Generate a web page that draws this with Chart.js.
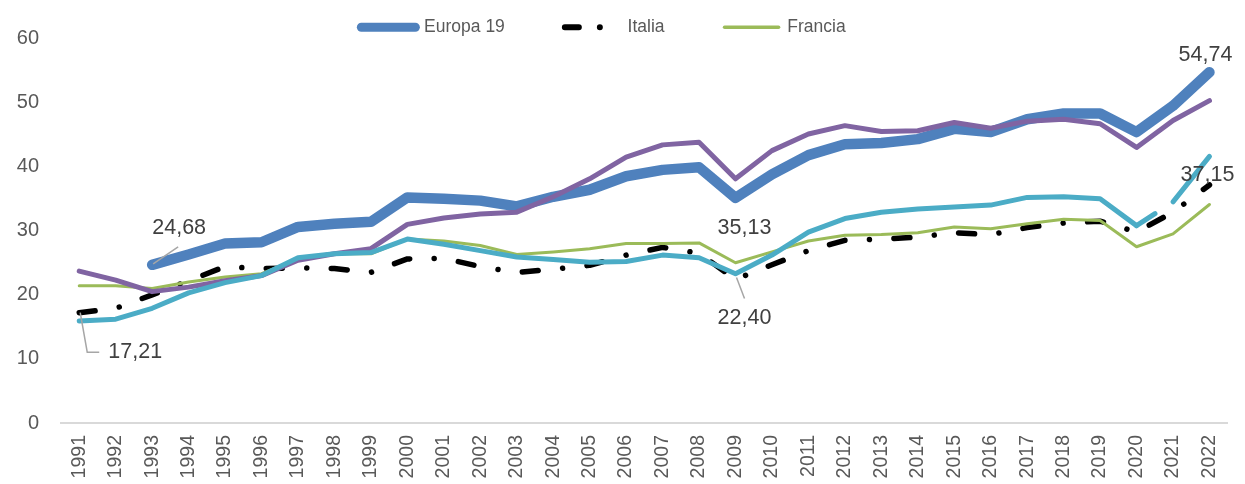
<!DOCTYPE html>
<html>
<head>
<meta charset="utf-8">
<script src="https://cdn.jsdelivr.net/npm/chart.js@4.4.1/dist/chart.umd.min.js"></script>
<style>
  html, body { margin: 0; padding: 0; background: #fff; }
  #wrap { position: relative; width: 1245px; height: 484px; }
</style>
</head>
<body>
<div id="wrap"><canvas id="grafico"></canvas></div>
<script>
// 1. DATI
const anni = ["1991","1992","1993","1994","1995","1996","1997","1998","1999","2000",
  "2001","2002","2003","2004","2005","2006","2007","2008","2009","2010",
  "2011","2012","2013","2014","2015","2016","2017","2018","2019","2020","2021","2022"];

const europa19 = [null, null, 24.68, 26.3, 28.0, 28.2, 30.6, 31.1, 31.4, 35.2,
  35.0, 34.7, 33.8, 35.3, 36.4, 38.5, 39.5, 39.9, 35.13, 38.8,
  41.8, 43.5, 43.7, 44.3, 45.9, 45.4, 47.4, 48.3, 48.3, 45.4, 49.5, 54.74];

const italia = [17.21, 17.9, 20.0, 22.2, 24.4, 24.1, 24.2, 24.1, 23.5, 25.6,
  25.7, 24.4, 23.5, 24.0, 24.6, 26.2, 27.4, 26.5, 22.40, 24.7,
  26.9, 28.5, 28.7, 29.0, 29.7, 29.4, 30.5, 31.2, 31.5, 29.8, 32.9, 37.15];

const francia = [21.4, 21.4, 21.0, 22.0, 22.8, 23.3, 25.6, 26.4, 26.4, 28.7,
  28.4, 27.7, 26.3, 26.7, 27.2, 28.0, 28.0, 28.1, 25.0, 26.7,
  28.4, 29.3, 29.4, 29.7, 30.6, 30.3, 31.1, 31.8, 31.6, 27.5, 29.5, 34.1];

// due serie senza voce in legenda
const serieViola = [23.7, 22.3, 20.5, 21.2, 22.2, 23.0, 25.4, 26.4, 27.2, 31.0,
  32.0, 32.6, 32.9, 35.3, 38.1, 41.5, 43.4, 43.8, 38.1, 42.5,
  45.1, 46.4, 45.5, 45.6, 46.9, 46.0, 47.1, 47.4, 46.7, 43.0, 47.2, 50.3];

const serieAzzurra = [15.9, 16.2, 17.9, 20.3, 21.9, 23.0, 25.8, 26.4, 26.6, 28.7,
  27.9, 26.9, 25.9, 25.5, 25.1, 25.2, 26.2, 25.8, 23.3, 26.2,
  29.8, 31.9, 32.9, 33.4, 33.7, 34.0, 35.2, 35.3, 35.0, 30.8, 34.5, 41.6];

const yTicks = [0, 10, 20, 30, 40, 50, 60];

// 2. FUNZIONI DI SUPPORTO
const FONT = '"Liberation Sans", Arial, sans-serif';
Chart.defaults.font.family = FONT;

function formatValue(v) {
  return v.toFixed(2).replace(".", ",");
}

// etichette dei dati: serie, indice, spostamento del testo e linea guida
const etichette = [
  { serie: europa19, idx: 2,  dx: 27, dy: -37, guida: [[1, -1], [26, -18]] },
  { serie: italia,   idx: 0,  dx: 56, dy: 39.5, guida: [[1, 0], [8, 39.5], [20, 39.5]] },
  { serie: europa19, idx: 18, dx: 9,  dy: 30.5 },
  { serie: italia,   idx: 18, dx: 9,  dy: 39, guida: [[1, -2], [9, 19]] },
  { serie: europa19, idx: 31, dx: -4, dy: -17 },
  { serie: italia,   idx: 31, dx: -2, dy: -10 },
];

const pluginEtichette = {
  id: "etichette",
  afterDatasetsDraw(chart) {
    const { ctx, scales: { x, y } } = chart;
    ctx.save();
    etichette.forEach(e => {
      const v = e.serie[e.idx];
      const px = x.getPixelForValue(e.idx);
      const py = y.getPixelForValue(v);
      if (e.guida) {
        ctx.beginPath();
        ctx.strokeStyle = "#A6A6A6";
        ctx.lineWidth = 1.5;
        e.guida.forEach(([gx, gy], i) => {
          if (i === 0) ctx.moveTo(px + gx, py + gy);
          else ctx.lineTo(px + gx, py + gy);
        });
        ctx.stroke();
      }
      ctx.font = "21.5px " + FONT;
      ctx.fillStyle = "#404040";
      ctx.textAlign = "center";
      ctx.textBaseline = "middle";
      ctx.fillText(formatValue(v), px + e.dx, py + e.dy);
    });
    ctx.restore();
  }
};

// la legenda di Excel si sovrappone all'area del grafico
const pluginLegenda = {
  id: "spostaLegenda",
  afterLayout(chart) {
    const lg = chart.legend;
    lg.top += 7.5; lg.bottom += 7.5;
    lg.left -= 15; lg.right -= 15;
  }
};

// 3. GRAFICO
const ctx = document.getElementById("grafico").getContext("2d");

new Chart(ctx, {
  type: "line",
  data: {
    labels: anni,
    datasets: [
      { label: "", data: serieAzzurra, borderColor: "#4BACC6", borderWidth: 5,
        segment: { borderDash: c => c.p0DataIndex === 29 ? [22, 200] : undefined } },
      { label: "", data: serieViola, borderColor: "#8064A2", borderWidth: 5 },
      { label: "Francia", data: francia, borderColor: "#9BBB59", borderWidth: 3 },
      { label: "Italia", data: italia, borderColor: "#000000", borderWidth: 5.5,
        borderDash: [16, 24.5, 0.01, 24.5] },
      { label: "Europa 19", data: europa19, borderColor: "#4F81BD", borderWidth: 10.5 },
    ].map(d => ({
      pointRadius: 0,
      pointHoverRadius: 0,
      tension: 0,
      fill: false,
      borderCapStyle: "round",
      borderJoinStyle: "round",
      ...d
    }))
  },
  options: {
    responsive: true,
    maintainAspectRatio: false,
    animation: false,
    layout: { padding: { top: -49, right: 8, bottom: 0, left: 0 } },
    plugins: {
      tooltip: { enabled: false },
      legend: {
        position: "top",
        labels: {
          usePointStyle: true,
          pointStyleWidth: 54,
          padding: 60,
          color: "#595959",
          font: { size: 17.5 },
          generateLabels: (chart) => [4, 3, 2].map(i => {
            const ds = chart.data.datasets[i];
            const spessori = { 4: 9, 3: 6, 2: 3.5 };
            return {
              text: ds.label,
              datasetIndex: i,
              fillStyle: ds.borderColor,
              strokeStyle: ds.borderColor,
              lineWidth: spessori[i],
              lineDash: i === 3 ? [14, 21, 0.01, 19] : [],
              lineCap: "round",
              lineJoin: "round",
              pointStyle: "line",
              rotation: 180,
              hidden: false,
              fontColor: "#595959"
            };
          })
        }
      }
    },
    scales: {
      x: {
        offset: true,
        grid: { display: false, drawTicks: false },
        border: { display: true, color: "#D9D9D9", width: 2 },
        ticks: {
          autoSkip: false,
          minRotation: 90,
          maxRotation: 90,
          padding: 12,
          color: "#595959",
          font: { size: 19.5 }
        },
        afterFit: s => { s.height = 61; }
      },
      y: {
        min: 0,
        max: 60,
        grid: { display: false, drawTicks: false },
        border: { display: false },
        afterBuildTicks: s => { s.ticks = yTicks.map(v => ({ value: v })); },
        ticks: {
          padding: 22,
          color: "#595959",
          font: { size: 20 }
        },
        afterFit: s => { s.width = 61; }
      }
    }
  },
  plugins: [pluginEtichette, pluginLegenda]
});
</script>
</body>
</html>
